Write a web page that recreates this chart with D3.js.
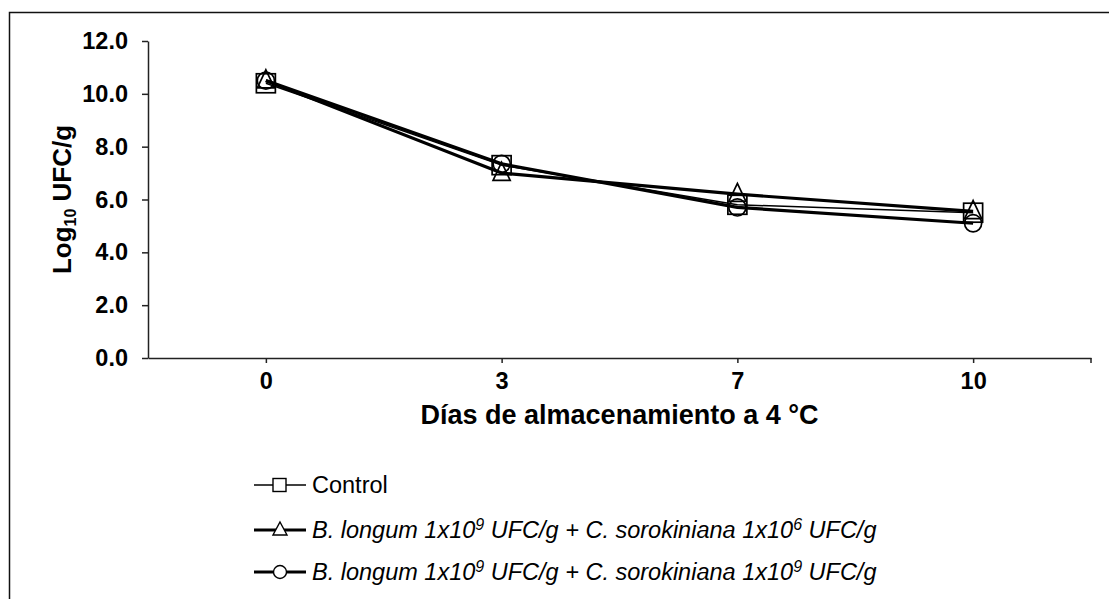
<!DOCTYPE html>
<html><head><meta charset="utf-8">
<script src="https://cdn.jsdelivr.net/npm/d3@7"></script>
<style>body{margin:0;background:#fff}svg{display:block}text{font-family:"Liberation Sans",Arial,sans-serif}</style>
</head><body><svg id="c" width="1109" height="599"></svg>
<script>
const days = ["0","3","7","10"];
const control = [10.4, 7.3, 5.8, 5.5];
const bl_cs6 = [10.5, 7.0, 6.2, 5.55];
const bl_cs9 = [10.5, 7.35, 5.7, 5.1];
const yTicks = [0,2,4,6,8,10,12];
// legend labels: [text before superscript, superscript, text, superscript, text]
const seriesNames = [
  ["Control"],
  ["B. longum 1x10","9"," UFC/g + C. sorokiniana 1x10","6"," UFC/g"],
  ["B. longum 1x10","9"," UFC/g + C. sorokiniana 1x10","9"," UFC/g"]];

const series = [
  {name: seriesNames[0], values: control, marker: "square", width: 1.5, italic: false},
  {name: seriesNames[1], values: bl_cs6, marker: "triangle", width: 3.2, italic: true},
  {name: seriesNames[2], values: bl_cs9, marker: "circle", width: 3.2, italic: true}
];

const svg = d3.select("#c");
svg.append("path").attr("d","M9.5,599 V12.5 H1109").attr("fill","none").attr("stroke","#111").attr("stroke-width",1.5);

const L=148, R=1091, T=41, B=358;
const x = d3.scalePoint().domain(days).range([L,R]).padding(0.5);
const y = d3.scaleLinear().domain([0,12]).range([B,T]);

const ya = svg.append("g").attr("transform",`translate(${L},0)`)
  .call(d3.axisLeft(y).tickValues(yTicks).tickFormat(d3.format(".1f")).tickSize(6).tickSizeOuter(0).tickPadding(14));
const xa = svg.append("g").attr("transform",`translate(0,${B})`)
  .call(d3.axisBottom(x).tickSize(5).tickSizeOuter(0).tickPadding(9));
xa.append("line").attr("x1",x.range()[1]).attr("x2",x.range()[1]).attr("y1",0).attr("y2",5).attr("stroke","#222").attr("stroke-width",1.5);
[ya,xa].forEach(a=>{
  a.selectAll("path,line").attr("stroke","#222").attr("stroke-width",1.5);
  a.selectAll("text").attr("font-size",23.5).attr("font-weight","bold").attr("fill","#000")
   .attr("font-family","'Liberation Sans',Arial,sans-serif");
});

svg.append("text").attr("x",(L+R)/2).attr("y",424).attr("text-anchor","middle")
  .attr("font-size",27).attr("font-weight","bold").text("Días de almacenamiento a 4 °C");
const yt = svg.append("text").attr("transform",`translate(71,${(T+B)/2}) rotate(-90)`).attr("text-anchor","middle")
  .attr("font-size",26).attr("font-weight","bold");
yt.append("tspan").text("Log");
yt.append("tspan").attr("font-size",16).attr("dy",5).text("10");
yt.append("tspan").attr("dy",-5).text(" UFC/g");

function marker(g, type, cx, cy, s, sw){
  if(type==="square"){
    g.append("rect").attr("x",cx-s/2).attr("y",cy-s/2).attr("width",s).attr("height",s)
      .attr("fill","none").attr("stroke","#000").attr("stroke-width",sw);
  } else if(type==="circle"){
    g.append("circle").attr("cx",cx).attr("cy",cy).attr("r",s*0.45)
      .attr("fill","none").attr("stroke","#000").attr("stroke-width",sw);
  } else {
    const h=s*0.95, w=s*0.9;
    g.append("path").attr("d",`M${cx},${cy-h*0.6} L${cx+w/2},${cy+h*0.4} L${cx-w/2},${cy+h*0.4} Z`)
      .attr("fill","none").attr("stroke","#000").attr("stroke-width",sw);
  }
}

const line = d3.line().x((d,i)=>x(days[i])).y(d=>y(d));
series.forEach(s=>{
  const g = svg.append("g");
  g.append("path").datum(s.values).attr("d",line).attr("fill","none").attr("stroke","#000").attr("stroke-width",s.width).attr("stroke-linejoin","round");
  s.values.forEach((v,i)=>marker(g, s.marker, x(days[i]), y(v), 19, 1.7));
});

const legY = [485, 530, 572];
series.forEach((s,i)=>{
  const g = svg.append("g");
  g.append("line").attr("x1",254).attr("x2",306).attr("y1",legY[i]).attr("y2",legY[i]).attr("stroke","#000").attr("stroke-width",s.width);
  if(s.marker==="square") g.append("rect").attr("x",273).attr("y",legY[i]-6.5).attr("width",13).attr("height",13).attr("fill","#fff").attr("stroke","#000").attr("stroke-width",1.4);
  else if(s.marker==="circle") g.append("circle").attr("cx",280).attr("cy",legY[i]).attr("r",6.5).attr("fill","#fff").attr("stroke","#000").attr("stroke-width",1.4);
  else g.append("path").attr("d",`M280,${legY[i]-8} L287,${legY[i]+5} L273,${legY[i]+5} Z`).attr("fill","#fff").attr("stroke","#000").attr("stroke-width",1.4);
  const t = g.append("text").attr("x",312).attr("y",legY[i]+8).attr("font-size",23.5)
    .attr("font-style", s.italic?"italic":"normal");
  s.name.forEach((part,k)=>{
    const sp = t.append("tspan").text(part);
    if(k%2===1) sp.attr("font-size",16).attr("dy",-8);
    else if(k>0) sp.attr("dy",8);
  });
});
</script></body></html>
